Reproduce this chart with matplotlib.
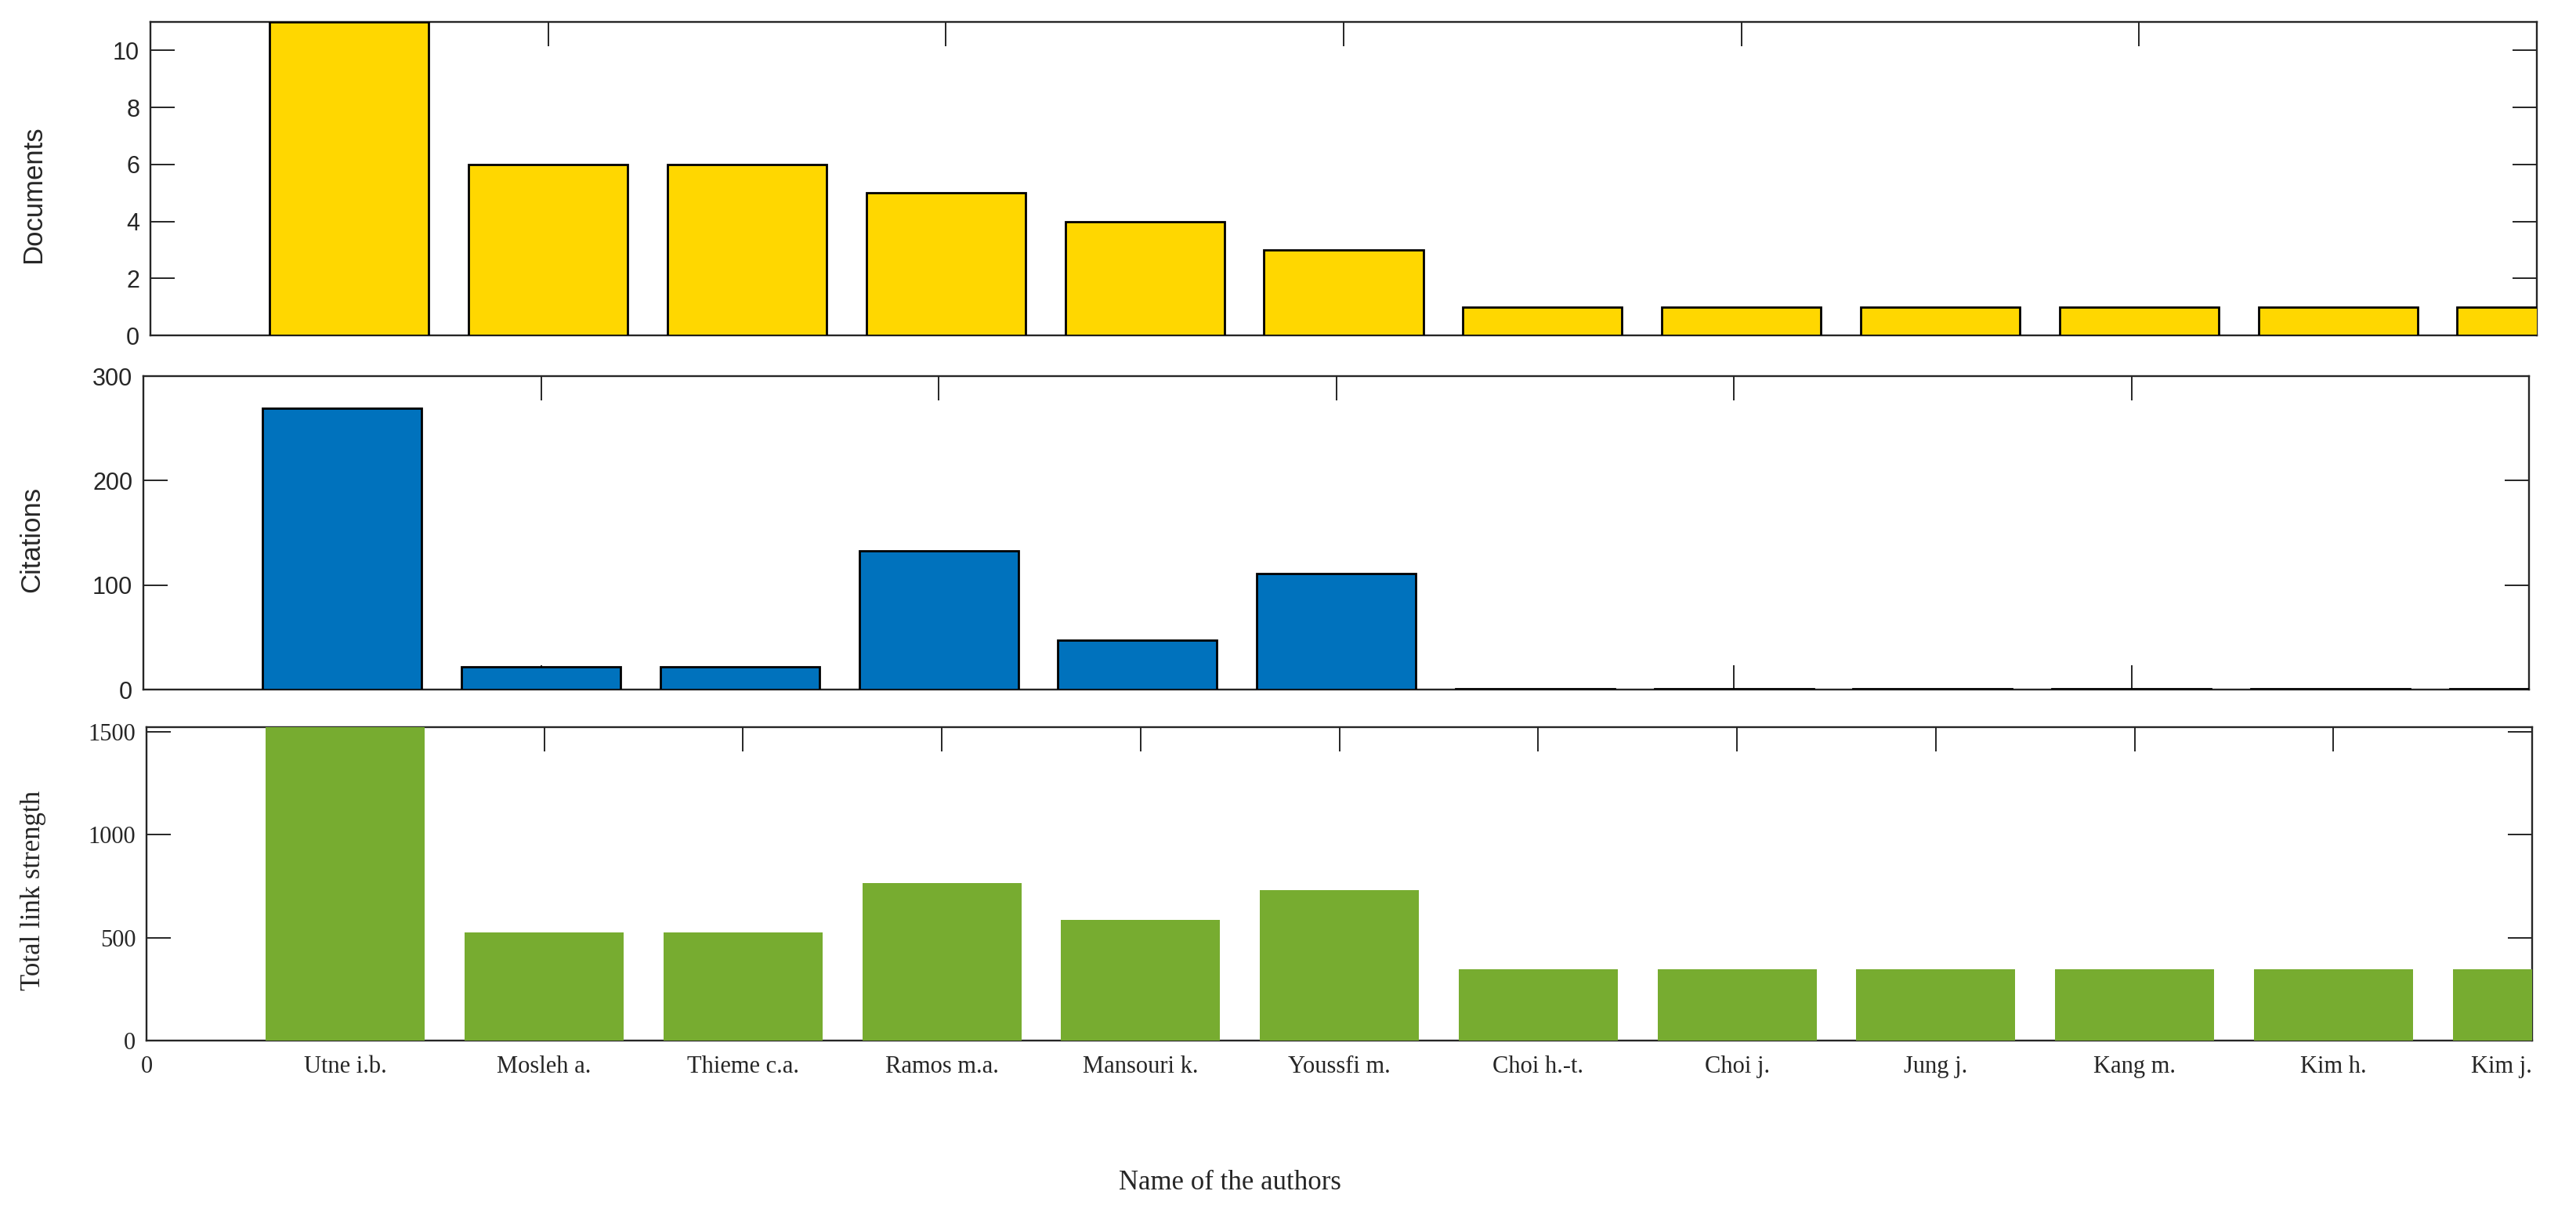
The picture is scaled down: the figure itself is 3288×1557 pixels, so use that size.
import matplotlib
matplotlib.use("Agg")
import matplotlib.pyplot as plt

authors = ['Utne i.b.', 'Mosleh a.', 'Thieme c.a.', 'Ramos m.a.', 'Mansouri k.', 'Youssfi m.',
           'Choi h.-t.', 'Choi j.', 'Jung j.', 'Kang m.', 'Kim h.', 'Kim j.']
documents = [11, 6, 6, 5, 4, 3, 1, 1, 1, 1, 1, 1]
citations = [269, 22, 22, 133, 47, 111, 1, 1, 1, 1, 1, 1]
link_strength = [1523, 524, 524, 765, 588, 732, 347, 347, 347, 347, 347, 347]

positions = list(range(1, len(authors) + 1))
dark = '#262626'

fig = plt.figure(figsize=(32.88, 15.57), dpi=100)

def style_axis(ax, family, yticks, xticks):
    ax.set_xlim(0, 12)
    ax.set_xticks(xticks)
    ax.set_yticks(yticks)
    ax.tick_params(direction='in', length=22, width=1.4, top=True, right=True,
                   colors=dark, labelsize=22, pad=10)
    for lab in ax.get_yticklabels() + ax.get_xticklabels():
        lab.set_family(family)
    for sp in ax.spines.values():
        sp.set_linewidth(1.7)
        sp.set_color(dark)

# Documents
ax1 = fig.add_axes([0.0584, 0.7251, 0.9264, 0.2569])
ax1.bar(positions, documents, width=0.8, color='#FFD700', edgecolor='black', linewidth=2, zorder=3)
style_axis(ax1, 'Liberation Sans', [0, 2, 4, 6, 8, 10], [0, 2, 4, 6, 8, 10, 12])
ax1.set_ylim(0, 11)
ax1.set_xticklabels([])
ax1.set_ylabel('Documents', family='Liberation Sans', fontsize=25, color=dark)
ax1.yaxis.set_label_coords(-0.0435, 0.45)

# Citations
ax2 = fig.add_axes([0.0557, 0.4348, 0.9261, 0.2569])
ax2.bar(positions, citations, width=0.8, color='#0072BD', edgecolor='black', linewidth=2, zorder=3)
style_axis(ax2, 'Liberation Sans', [0, 100, 200, 300], [0, 2, 4, 6, 8, 10, 12])
ax2.set_ylim(0, 300)
ax2.set_xticklabels([])
ax2.set_ylabel('Citations', family='Liberation Sans', fontsize=25, color=dark)
ax2.yaxis.set_label_coords(-0.0415, 0.48)

# Total link strength
ax3 = fig.add_axes([0.0569, 0.1471, 0.9261, 0.2569])
ax3.bar(positions, link_strength, width=0.8, color='#77AC30', linewidth=0, zorder=3)
style_axis(ax3, 'Liberation Serif', [0, 500, 1000, 1500], list(range(0, 13)))
ax3.set_ylim(0, 1523)
ax3.set_xticks(list(range(0, 13)))
ax3.set_xticklabels(['0'] + authors, family='Liberation Serif', fontsize=22, color=dark)
ax3.tick_params(axis='x', pad=14)
ax3.get_xticklabels()[-1].set_horizontalalignment('right')
ax3.set_ylabel('Total link strength', family='Liberation Serif', fontsize=25, color=dark)
ax3.yaxis.set_label_coords(-0.042, 0.48)

fig.text(1570 / 3288, 1 - 1509 / 1557, 'Name of the authors', family='Liberation Serif',
         fontsize=25, color=dark, ha='center', va='center')

fig.savefig('out.png', dpi=100)
